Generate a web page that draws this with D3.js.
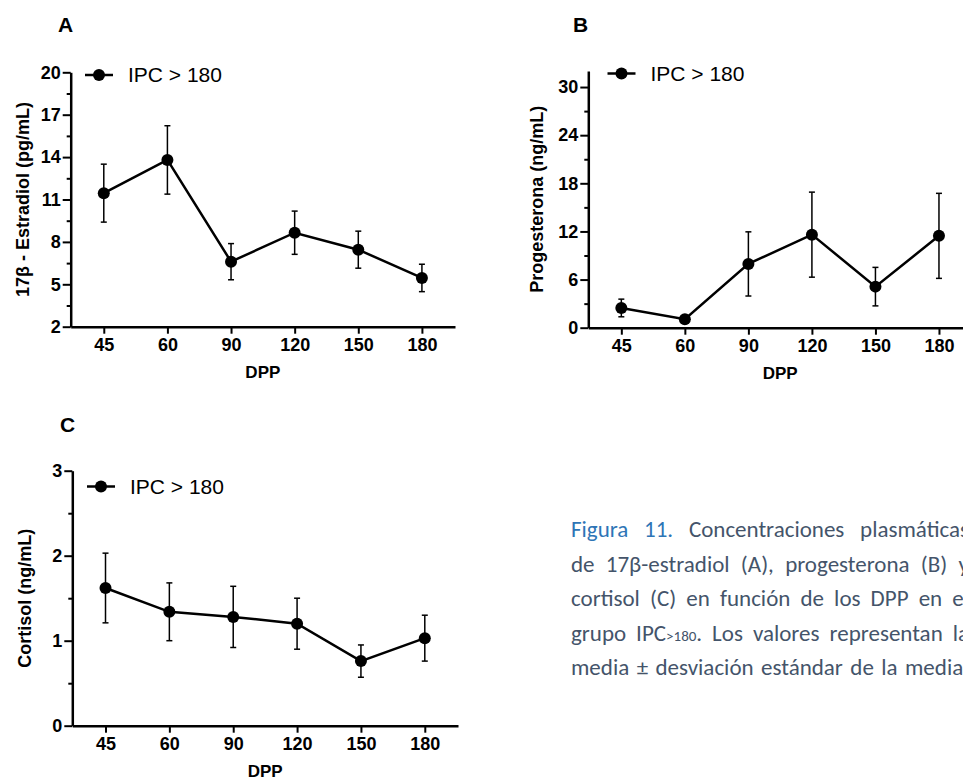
<!DOCTYPE html>
<html>
<head>
<meta charset="utf-8">
<script src="https://cdn.jsdelivr.net/npm/d3@7"></script>
<style>
  html, body { margin: 0; padding: 0; background: #fff; overflow: hidden; }
  #chart { width: 963px; height: 782px; }
  .axis path, .axis line { stroke: #000; }
  .axis text { font-family: "Liberation Sans", Arial, sans-serif; font-weight: bold; font-size: 18px; fill: #000; }
</style>
</head>
<body>
<div id="chart"></div>
<script>
////////////////////////////////////////////////////////////////////
////////////////////////////  Data  ////////////////////////////////
const dpp = ["45", "60", "90", "120", "150", "180"];

// A - 17b estradiol (pg/mL)
const estradiolMean = [11.45, 13.8, 6.6, 8.65, 7.45, 5.45];
const estradiolSd = [2.05, 2.42, 1.28, 1.53, 1.31, 0.97];
const estradiolTicks = [2, 5, 8, 11, 14, 17, 20];
const estradiolMinor = [3.5, 6.5, 9.5, 12.5, 15.5, 18.5];

// B - progesterona (ng/mL)
const progMean = [2.46, 1.05, 7.95, 11.6, 5.12, 11.45];
const progSd = [1.1, 0.3, 4.0, 5.3, 2.4, 5.3];
const progTicks = [0, 6, 12, 18, 24, 30];
const progMinor = [3, 9, 15, 21, 27];

// C - cortisol (ng/mL)
const cortMean = [1.62, 1.34, 1.28, 1.2, 0.76, 1.03];
const cortSd = [0.41, 0.34, 0.36, 0.3, 0.19, 0.27];
const cortTicks = [0, 1, 2, 3];
const cortMinor = [0.5, 1.5, 2.5];

const legendLabel = "IPC > 180";

const captionLines = [
  [{ t: "Figura 11.", blue: true }, { t: " Concentraciones plasmáticas" }],
  [{ t: "de 17β-estradiol (A), progesterona (B) y" }],
  [{ t: "cortisol (C) en función de los DPP en el" }],
  [{ t: "grupo IPC" }, { t: ">180", small: true }, { t: ". Los valores representan la" }],
  [{ t: "media ± desviación estándar de la media." }],
];

////////////////////////////////////////////////////////////////////
////////////////////////////  Init  ////////////////////////////////
const width = 963;
const height = 782;
const font = '"Liberation Sans", Arial, sans-serif';
const fmt = d3.format("~g");

const svg = d3
  .select("#chart")
  .append("svg")
  .attr("width", width)
  .attr("height", height);

svg.append("rect").attr("width", width).attr("height", height).attr("fill", "#fff");

////////////////////////////////////////////////////////////////////
//////////////////////////  Panels  ////////////////////////////////
function drawPanel(p) {
  const data = dpp.map((d, i) => ({ dpp: d, mean: p.mean[i], sd: p.sd[i] }));
  const g = svg.append("g");

  const xScale = d3.scalePoint().domain(dpp).range([p.left, p.right]).padding(0.52);
  const yScale = d3.scaleLinear().domain(p.yDomain).range([p.bottom, p.top]);

  // minor ticks
  g.append("g")
    .attr("class", "axis")
    .attr("transform", `translate(${p.left},0)`)
    .call(d3.axisLeft(yScale).tickValues(p.minor).tickSize(4).tickFormat(""))
    .call((s) => s.select(".domain").remove())
    .selectAll("line")
    .attr("stroke-width", 2);

  // y axis
  const yAx = g
    .append("g")
    .attr("class", "axis")
    .attr("transform", `translate(${p.left},0)`)
    .call(
      d3.axisLeft(yScale).tickValues(p.ticks).tickFormat(fmt).tickSize(8).tickPadding(2).tickSizeOuter(0)
    );
  yAx.select(".domain").attr("stroke-width", 2.5);
  yAx.selectAll(".tick line").attr("stroke-width", 2);

  // x axis
  const xAx = g
    .append("g")
    .attr("class", "axis")
    .attr("transform", `translate(0,${p.bottom})`)
    .call(d3.axisBottom(xScale).tickSize(7).tickPadding(5).tickSizeOuter(0));
  xAx.select(".domain").attr("stroke-width", 2.5);
  xAx.selectAll(".tick line").attr("stroke-width", 2);

  // error bars
  const eb = g.append("g").attr("stroke", "#000").attr("stroke-width", 1.5);
  data.forEach((d) => {
    const cx = xScale(d.dpp);
    const y1 = yScale(d.mean + d.sd);
    const y2 = yScale(d.mean - d.sd);
    eb.append("line").attr("x1", cx).attr("x2", cx).attr("y1", y1).attr("y2", y2);
    eb.append("line").attr("x1", cx - 3).attr("x2", cx + 3).attr("y1", y1).attr("y2", y1);
    eb.append("line").attr("x1", cx - 3).attr("x2", cx + 3).attr("y1", y2).attr("y2", y2);
  });

  // line
  const line = d3
    .line()
    .x((d) => xScale(d.dpp))
    .y((d) => yScale(d.mean));

  g.append("path")
    .datum(data)
    .attr("fill", "none")
    .attr("stroke", "#000")
    .attr("stroke-width", 2.5)
    .attr("d", line);

  g.selectAll(".dot")
    .data(data)
    .join("circle")
    .attr("class", "dot")
    .attr("cx", (d) => xScale(d.dpp))
    .attr("cy", (d) => yScale(d.mean))
    .attr("r", 6)
    .attr("fill", "#000");

  // axis titles
  g.append("text")
    .attr("transform", `translate(${p.yLabelX},${(p.top + p.bottom) / 2}) rotate(-90)`)
    .attr("text-anchor", "middle")
    .style("font-family", font)
    .style("font-weight", "bold")
    .style("font-size", "18px")
    .text(p.yLabel);

  g.append("text")
    .attr("x", (p.left + p.right) / 2)
    .attr("y", p.bottom + 51)
    .attr("text-anchor", "middle")
    .style("font-family", font)
    .style("font-weight", "bold")
    .style("font-size", "17px")
    .text("DPP");

  // panel letter
  g.append("text")
    .attr("x", p.letterX)
    .attr("y", p.letterY)
    .style("font-family", font)
    .style("font-weight", "bold")
    .style("font-size", "21px")
    .text(p.letter);

  // legend
  const lg = g.append("g").attr("transform", `translate(${p.legX},${p.legY})`);
  lg.append("line").attr("x1", 0).attr("x2", 28).attr("stroke", "#000").attr("stroke-width", 2.5);
  lg.append("circle").attr("cx", 14).attr("r", 6).attr("fill", "#000");
  lg.append("text")
    .attr("x", 43)
    .attr("y", 7)
    .style("font-family", font)
    .style("font-size", "21px")
    .text(legendLabel);
}

drawPanel({
  mean: estradiolMean, sd: estradiolSd, ticks: estradiolTicks, minor: estradiolMinor,
  yDomain: [2, 20], left: 70.7, right: 455, top: 72.3, bottom: 326.7,
  yLabel: "17β - Estradiol (pg/mL)", yLabelX: 29,
  letter: "A", letterX: 58, letterY: 32, legX: 85, legY: 75,
});

drawPanel({
  mean: progMean, sd: progSd, ticks: progTicks, minor: progMinor,
  yDomain: [0, 32], left: 588.3, right: 972, top: 71, bottom: 327.7,
  yLabel: "Progesterona (ng/mL)", yLabelX: 543,
  letter: "B", letterX: 573, letterY: 32, legX: 607.5, legY: 73.5,
});

drawPanel({
  mean: cortMean, sd: cortSd, ticks: cortTicks, minor: cortMinor,
  yDomain: [0, 3], left: 72.3, right: 458, top: 470.7, bottom: 725.7,
  yLabel: "Cortisol (ng/mL)", yLabelX: 31,
  letter: "C", letterX: 60, letterY: 432, legX: 87, legY: 486.5,
});

////////////////////////////////////////////////////////////////////
//////////////////////////  Caption  ///////////////////////////////
const capLeft = 571;
const capWidth = 398;
const capFont = 'Calibri, Carlito, Lato, "Open Sans", sans-serif';

const cap = svg.append("g");
captionLines.forEach((parts, i) => {
  const t = cap
    .append("text")
    .attr("x", capLeft)
    .attr("y", 537 + i * 34.5)
    .style("font-family", capFont)
    .style("font-size", "23px")
    .attr("fill", "#44546a")
    .attr("xml:space", "preserve");
  parts.forEach((pt) => {
    t.append("tspan")
      .attr("fill", pt.blue ? "#2e75b6" : null)
      .style("font-size", pt.small ? "15px" : null)
      .text(pt.t);
  });
  // justify each line to the column width (runs past the right edge)
  const natural = t.node().getComputedTextLength();
  const spaces = parts.map((pt) => pt.t).join("").split(" ").length - 1;
  const extra = Math.max(0, (capWidth - natural) / spaces);
  t.style("word-spacing", `${extra}px`);
});
</script>
</body>
</html>
